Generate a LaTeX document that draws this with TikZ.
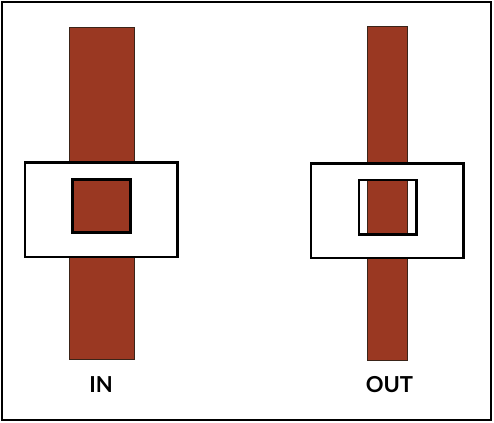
\documentclass[tikz,border=0pt]{standalone}
\usepackage{fontspec}
\setmainfont{Lato}
\definecolor{bar}{HTML}{9A3822}
\definecolor{baredge}{HTML}{3A2419}
\tikzset{
  barshape/.style={fill=bar, draw=baredge, line width=1pt},
  frame/.style={draw=black, line width=2.4pt},
  lbl/.style={font=\bfseries\fontsize{22}{22}\selectfont, inner sep=0pt, anchor=base}
}
\begin{document}
\begin{tikzpicture}[x=1pt,y=-1pt]
\useasboundingbox (0,0) rectangle (494,422);
\fill[white] (0,0) rectangle (494,422);
\draw[frame] (2,2) rectangle (491,420);
% left: IN
\draw[barshape] (69.5,27.5) rectangle (134,359);
\draw[frame, fill=white] (25,162.5) rectangle (177.5,257);
\draw[frame, fill=bar] (72.5,179.5) rectangle (130.5,232.5);
% right: OUT
\draw[barshape] (367.5,26.5) rectangle (407.5,360.5);
\draw[frame, fill=white] (311,163.5) rectangle (463.5,258);
\fill[white] (359,180) rectangle (416.5,234.5);
\draw[barshape] (367.5,180) rectangle (407.5,234.5);
\draw[frame] (359,180) rectangle (416.5,234.5);
\node[lbl] (in) at (101,392.5) {IN};
\node[lbl] (out) at (389.5,392.5) {OUT};
\end{tikzpicture}
\end{document}
